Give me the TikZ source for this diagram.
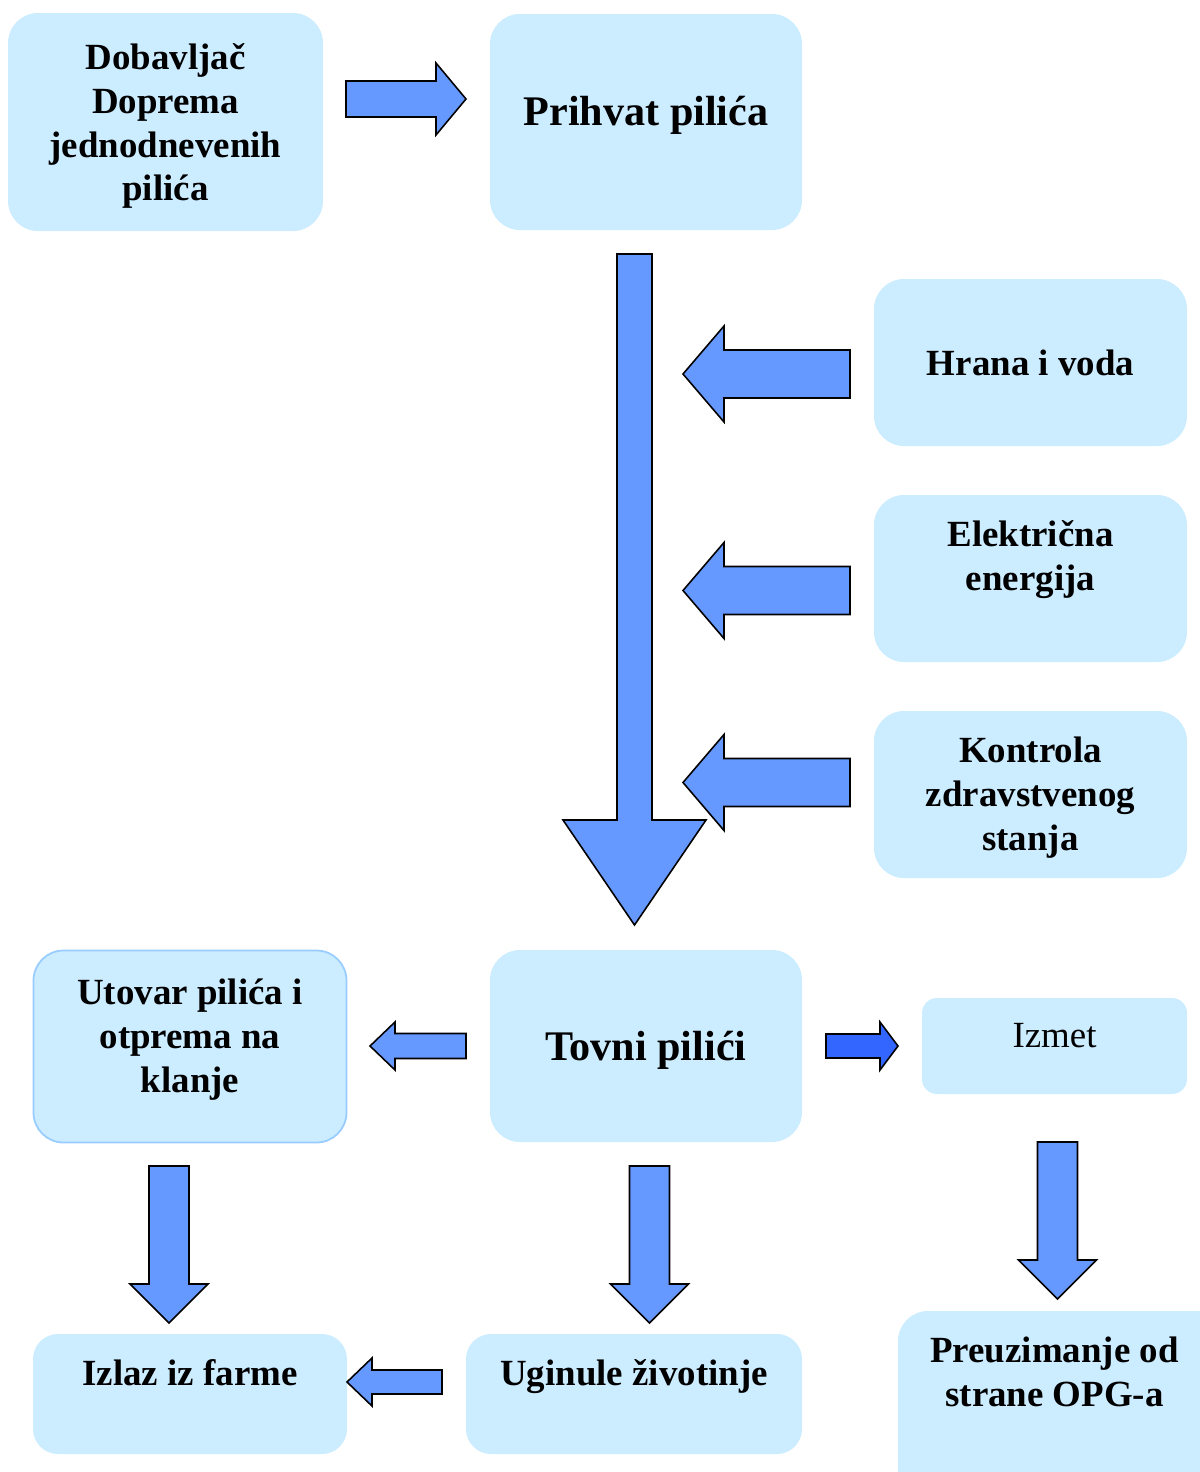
\documentclass[tikz,border=0pt]{standalone}
\usepackage{fontspec}
\setmainfont{Liberation Serif}
\usepackage{tikz}
\usetikzlibrary{positioning, calc}

\definecolor{boxblue}{HTML}{CCECFF}
\definecolor{boxline}{HTML}{99CCFF}
\definecolor{arrblue}{HTML}{6699FF}
\definecolor{arrdark}{HTML}{3366FF}

\def\pxl{0.02cm}

\tikzset{
  box/.style={rectangle, rounded corners=0.6cm, fill=boxblue, inner sep=0pt, align=center,
    font=\bfseries\fontsize{21}{25}\selectfont},
  bigtxt/.style={font=\bfseries\fontsize{24}{28}\selectfont},
  txt/.style={inner sep=0pt, align=center, font=\bfseries\fontsize{21}{25}\selectfont},
  arrowbody/.style={draw=black, fill=arrblue, line width=0.9pt, line join=miter}
}

% block arrow: start, angle, length, shaft half width, head half width, head length
\newcommand{\barrow}[7][]{%
  \draw[arrowbody,#1,shift={#2},rotate=#3] (0,-#5) -- (#4-#7,-#5) -- (#4-#7,-#6) -- (#4,0)
    -- (#4-#7,#6) -- (#4-#7,#5) -- (0,#5) -- cycle;}

\begin{document}
\begin{tikzpicture}[x=0.02cm, y=-0.02cm]
  \clip (0,0) rectangle (1200,1472);

  % boxes
  \node[box, minimum width={315*\pxl}, minimum height={218*\pxl}] (dob) at (165.5,122) {};
  \node[box, minimum width={312*\pxl}, minimum height={216*\pxl}] (prih) at (646,122) {};
  \node[box, minimum width={313*\pxl}, minimum height={167*\pxl}] (hrana) at (1030.5,362.5) {Hrana i voda};
  \node[box, minimum width={313*\pxl}, minimum height={167*\pxl}] (elek) at (1030.5,578.5) {};
  \node[box, minimum width={313*\pxl}, minimum height={167*\pxl}] (kontr) at (1030.5,794.5) {};
  \node[box, draw=boxline, line width=1pt, minimum width={313*\pxl}, minimum height={192*\pxl}] (utov) at (190,1046.5) {};
  \node[box, minimum width={312*\pxl}, minimum height={192*\pxl}] (tovni) at (646,1046) {};
  \node[box, rounded corners=0.3cm, minimum width={265*\pxl}, minimum height={96*\pxl}] (izmet) at (1054.5,1046) {};
  \node[box, rounded corners=0.5cm, minimum width={314*\pxl}, minimum height={120*\pxl}] (izlaz) at (190,1394) {};
  \node[box, rounded corners=0.5cm, minimum width={336*\pxl}, minimum height={120*\pxl}] (ugin) at (634,1394) {};
  \node[box, minimum width={332*\pxl}, minimum height={199*\pxl}] (preuz) at (1064,1410.5) {};

  % texts
  \node[txt] (dob-t) at (165.5,126) {Dobavljač\\Doprema\\jednodnevenih\\pilića};
  \node[txt, bigtxt] (prih-t) at (646,115) {Prihvat pilića};
  \node[txt] (elek-t) at (1030.5,560) {Električna\\energija};
  \node[txt] (kontr-t) at (1030.5,798) {Kontrola\\zdravstvenog\\stanja};
  \node[txt] (utov-t) at (190,1040) {Utovar pilića i\\otprema na\\klanje};
  \node[txt, bigtxt] (tovni-t) at (646,1050) {Tovni pilići};
  \node[txt, font=\fontsize{21}{25}\selectfont] (izmet-t) at (1054.5,1036) {Izmet};
  \node[txt] (izlaz-t) at (190,1373) {Izlaz iz farme};
  \node[txt] (ugin-t) at (634,1377) {Uginule životinje};
  \node[txt] (preuz-t) at (1054.5,1372) {Preuzimanje od\\strane OPG-a};

  % arrows
  \barrow{(346,99)}{0}{120}{18}{36}{30}
  \barrow{(634.5,254)}{-90}{671}{17.5}{71.5}{105}
  \barrow{(850,374)}{180}{167}{24}{48}{41}
  \barrow{(850,590.5)}{180}{167}{24}{48}{41}
  \barrow{(850,782.5)}{180}{167}{24}{48}{41}
  \barrow{(466,1046)}{180}{96}{12.5}{24}{25}
  \barrow[fill=arrdark]{(826,1046)}{0}{72}{12}{24}{18}
  \barrow{(169,1166)}{-90}{157}{20}{39}{39}
  \barrow{(649.5,1166)}{-90}{157}{20}{39}{39}
  \barrow{(1057.5,1142)}{-90}{157}{20}{39}{39}
  \barrow{(442,1382)}{180}{95}{12}{24}{25}
\end{tikzpicture}
\end{document}
